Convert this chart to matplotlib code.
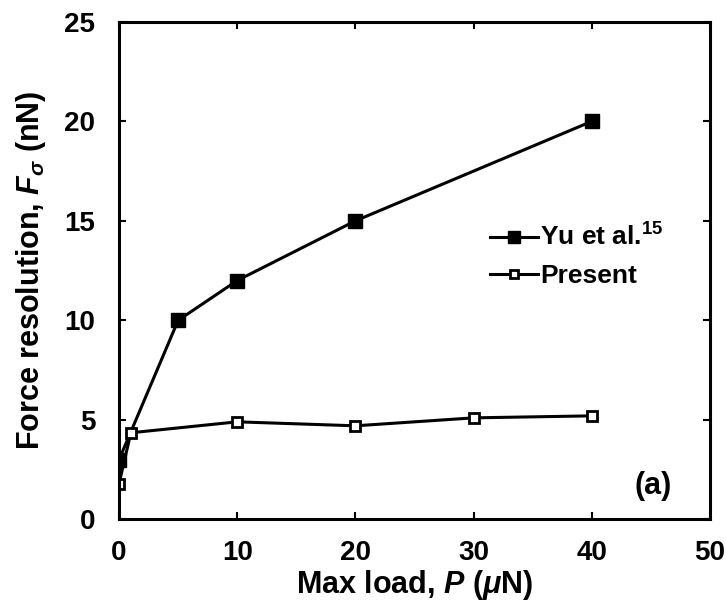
import matplotlib
matplotlib.use('Agg')
import matplotlib.pyplot as plt

plt.rcParams['font.family'] = ['Liberation Sans', 'DejaVu Sans']
plt.rcParams['font.weight'] = 'bold'
plt.rcParams['mathtext.fontset'] = 'custom'
plt.rcParams['mathtext.rm'] = 'Liberation Sans:bold'
plt.rcParams['mathtext.bf'] = 'Liberation Sans:bold'
plt.rcParams['mathtext.it'] = 'Liberation Sans:italic:bold'

# data
yu_load = [0, 5, 10, 20, 40]
yu_res = [3.0, 10.0, 12.0, 15.0, 20.0]
present_load = [0, 1, 10, 20, 30, 40]
present_res = [1.8, 4.35, 4.9, 4.7, 5.1, 5.2]

fig = plt.figure(figsize=(7.26, 6.06), dpi=100)
ax = fig.add_axes([0.164, 0.143, 0.814, 0.821])

ax.plot(yu_load, yu_res, '-s', color='black', lw=2.2, markersize=9.5,
        label='Yu et al.$^{15}$')
ax.plot(present_load, present_res, '-s', color='black', lw=2.2, markersize=7.5,
        markerfacecolor='white', markeredgewidth=2, label='Present')

ax.set_xlim(0, 50)
ax.set_ylim(0, 25)
ax.set_xticks([0, 10, 20, 30, 40, 50])
ax.set_yticks([0, 5, 10, 15, 20, 25])
ax.tick_params(direction='in', length=5, width=1.5, top=True, right=True,
               labelsize=20)
ax.tick_params(axis='x', pad=15)
ax.tick_params(axis='y', pad=17)
for s in ax.spines.values():
    s.set_linewidth(2.2)

ax.set_xlabel('Max load, $P$ ($\\mu$N)', fontsize=22, fontweight='bold', labelpad=1)
ax.set_ylabel('Force resolution, $F_\\sigma$ (nN)', fontsize=22, fontweight='bold', labelpad=12)

ax.text(0.904, 0.068, '(a)', transform=ax.transAxes, fontsize=22,
        fontweight='bold', ha='center', va='center')

ax.legend(loc='upper left', bbox_to_anchor=(0.628, 0.594), frameon=False,
          handlelength=1.8, handletextpad=0.1, labelspacing=0.5,
          borderpad=0, borderaxespad=0, markerscale=0.85,
          prop={'weight': 'bold', 'size': 19})

fig.savefig('out.png', dpi=100)
